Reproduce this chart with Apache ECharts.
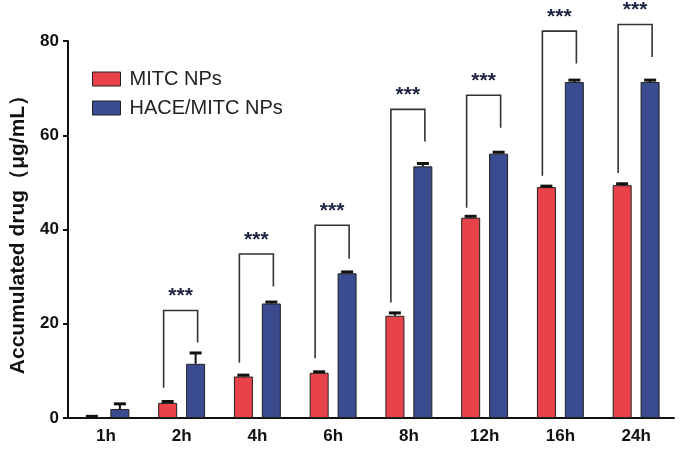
<!DOCTYPE html>
<html>
<head>
<meta charset="utf-8">
<script src="https://cdn.jsdelivr.net/npm/echarts@6/dist/echarts.min.js"></script>
<style>
  html, body { margin: 0; padding: 0; background: #fff; }
  #container { width: 683px; height: 449px; }
</style>
</head>
<body>
<div id="container"></div>
<script>
// 数据
var categories = ['1h', '2h', '4h', '6h', '8h', '12h', '16h', '24h'];
var mitc = [0.2, 3.2, 8.8, 9.6, 21.7, 42.5, 49.0, 49.4];
var mitcErr = [0.15, 0.3, 0.3, 0.2, 0.6, 0.3, 0.2, 0.3];
var hace = [1.9, 11.5, 24.3, 30.7, 53.4, 56.1, 71.3, 71.3];
var haceErr = [1.1, 2.3, 0.3, 0.3, 0.6, 0.3, 0.4, 0.4];
// 显著性标记 [类别序号, 横线高度, 左端下沿, 右端下沿]
var brackets = [
    [1, 22.8, 6.4, 16.0],
    [2, 34.8, 11.7, 27.9],
    [3, 40.9, 12.7, 33.8],
    [4, 65.5, 24.5, 58.7],
    [5, 68.5, 44.6, 61.6],
    [6, 82.1, 51.4, 75.2],
    [7, 83.5, 52.0, 76.6]
];
var sigLabel = '***';

var FONT = "'Liberation Sans', Arial, sans-serif";
var BAR_W = 19;
var BAR_OFF = 14;   // 柱中心到类别中心的距离

function errData(vals, errs) {
    return vals.map(function (v, i) { return [i, v, errs[i]]; });
}

function errorRender(offset) {
    return function (params, api) {
        var idx = api.value(0);
        var base = api.coord([idx, api.value(1)]);
        var top = api.coord([idx, api.value(1) + api.value(2)]);
        var x = base[0] + offset;
        return {
            type: 'group',
            children: [
                { type: 'line', shape: { x1: x, y1: base[1], x2: x, y2: top[1] },
                  style: { stroke: '#111', lineWidth: 2 } },
                { type: 'line', shape: { x1: x - 6, y1: top[1], x2: x + 6, y2: top[1] },
                  style: { stroke: '#111', lineWidth: 3 } }
            ]
        };
    };
}

function bracketRender(params, api) {
    var idx = api.value(0);
    var t = api.coord([idx, api.value(1)]);
    var l = api.coord([idx, api.value(2)]);
    var r = api.coord([idx, api.value(3)]);
    var lx = t[0] - 18, rx = t[0] + 16;
    return {
        type: 'group',
        children: [
            { type: 'polyline',
              shape: { points: [[lx, l[1]], [lx, t[1]], [rx, t[1]], [rx, r[1]]] },
              style: { stroke: '#333', lineWidth: 1.6, fill: null } },
            { type: 'text',
              style: { text: sigLabel, x: (lx + rx) / 2, y: t[1] - 14,
                       align: 'center', verticalAlign: 'middle',
                       font: 'bold 21px ' + FONT, fill: '#1c2340' } }
        ]
    };
}

var myChart = echarts.init(document.getElementById('container'));
var option = {
    animation: false,
    backgroundColor: '#fff',
    grid: { left: 65, right: 9, top: 41, bottom: 31 },
    legend: {
        orient: 'vertical',
        left: 87,
        top: 64,
        itemWidth: 28,
        itemHeight: 14,
        itemGap: 9,
        icon: 'rect',
        data: ['MITC NPs', 'HACE/MITC NPs'],
        itemStyle: { borderColor: '#222', borderWidth: 1 },
        textStyle: { fontFamily: FONT, fontSize: 20, color: '#222', padding: [0, 0, 0, 4] }
    },
    xAxis: {
        type: 'category',
        data: categories,
        axisLine: { lineStyle: { color: '#111', width: 2 } },
        axisTick: { alignWithLabel: true, length: 6, lineStyle: { color: '#111', width: 2 } },
        axisLabel: { fontFamily: FONT, fontWeight: 'bold', fontSize: 17, color: '#111', margin: 10 }
    },
    yAxis: {
        type: 'value',
        min: 0,
        max: 80,
        interval: 20,
        name: 'Accumulated drug（μg/mL）',
        nameLocation: 'middle',
        nameGap: 39,
        nameTextStyle: { fontFamily: FONT, fontWeight: 'bold', fontSize: 21, color: '#111' },
        axisLine: { show: true, lineStyle: { color: '#111', width: 2 } },
        axisTick: { show: true, length: 5, lineStyle: { color: '#111', width: 2 } },
        splitLine: { show: false },
        axisLabel: { fontFamily: FONT, fontWeight: 'bold', fontSize: 17, color: '#111', margin: 9 }
    },
    series: [
        {
            name: 'MITC NPs',
            type: 'bar',
            barWidth: BAR_W,
            barGap: '47%',
            itemStyle: { color: '#e8434b', borderColor: '#222', borderWidth: 1 },
            data: mitc
        },
        {
            name: 'HACE/MITC NPs',
            type: 'bar',
            barWidth: BAR_W,
            barGap: '47%',
            itemStyle: { color: '#3b4b8f', borderColor: '#222', borderWidth: 1 },
            data: hace
        },
        {
            type: 'custom',
            renderItem: errorRender(-BAR_OFF),
            data: errData(mitc, mitcErr),
            z: 5
        },
        {
            type: 'custom',
            renderItem: errorRender(BAR_OFF),
            data: errData(hace, haceErr),
            z: 5
        },
        {
            type: 'custom',
            renderItem: bracketRender,
            clip: false,
            data: brackets,
            z: 6
        }
    ]
};
myChart.setOption(option);
</script>
</body>
</html>
